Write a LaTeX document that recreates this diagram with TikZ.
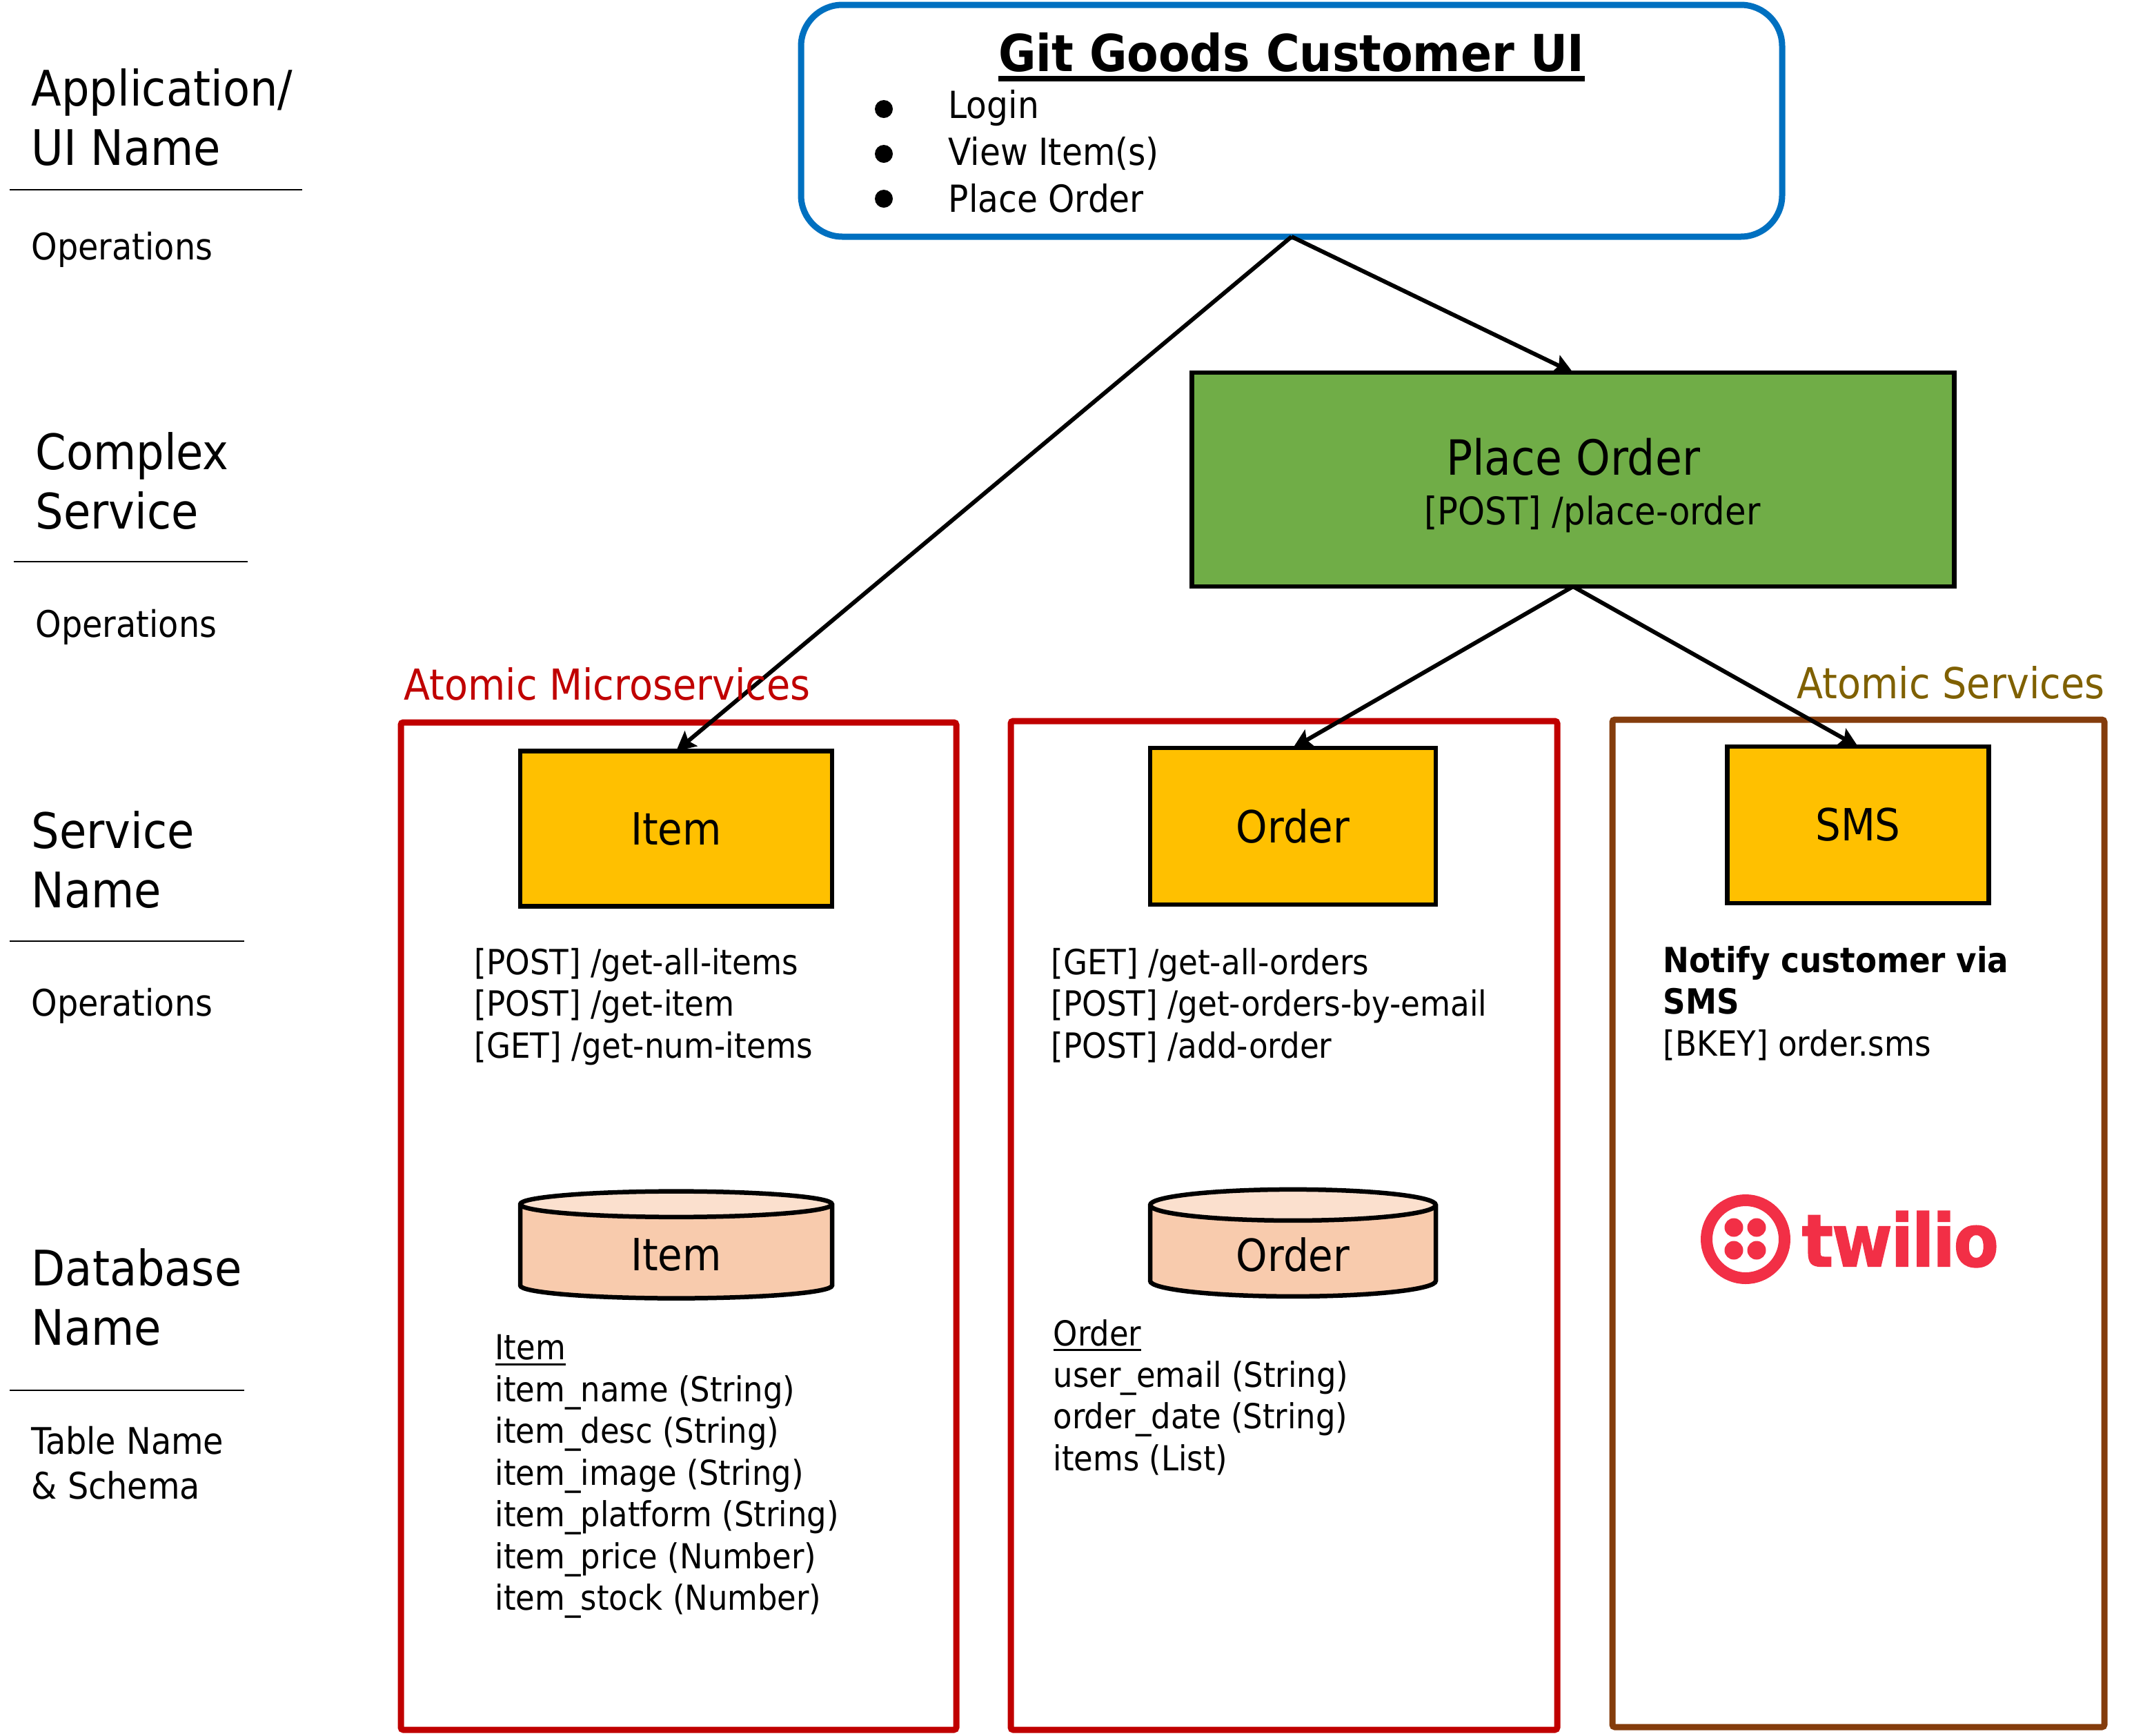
\documentclass[tikz,border=0pt]{standalone}
\usepackage{fontspec}
\setmainfont{DejaVu Sans Condensed}
\newfontfamily\logofont[FakeBold=1.5,LetterSpace=-2]{DejaVu Sans Condensed Bold}
% underline: drop, thickness, text
\newcommand{\ultext}[3]{\leavevmode\setbox0=\hbox{#3}\rlap{\rule[-#1]{\wd0}{#2}}\box0}
\usepackage{tikz}
\usetikzlibrary{shapes.geometric, arrows.meta, positioning, calc}
\definecolor{UIBlue}{HTML}{0070C0}
\definecolor{PlaceGreen}{HTML}{70AD47}
\definecolor{ServiceGold}{HTML}{FFC000}
\definecolor{DbPeach}{HTML}{F8CBAD}
\definecolor{DbTop}{HTML}{FBE0CE}
\definecolor{AtomicRed}{HTML}{C00000}
\definecolor{AtomicBrown}{HTML}{843C0C}
\definecolor{AtomicOlive}{HTML}{7F6000}
\definecolor{TwilioRed}{HTML}{F22F46}
\tikzset{
  % Box styles
  uibox/.style={rectangle, rounded corners=0.6cm, draw=UIBlue, line width=0.09cm, fill=white, outer sep=0pt, minimum width=14.22cm, minimum height=3.36cm},
  complexbox/.style={rectangle, draw=black, line width=0.065cm, fill=PlaceGreen, outer sep=0pt, minimum width=11.05cm, minimum height=3.1cm},
  servicebox/.style={rectangle, draw=black, line width=0.065cm, fill=ServiceGold, outer sep=0pt, minimum height=2.27cm, font=\fontsize{18.3}{22}\selectfont},
  dbnode/.style={cylinder, draw=black, line width=0.065cm, cylinder uses custom fill, cylinder body fill=DbPeach, cylinder end fill=DbTop, shape border rotate=90, aspect=0.24, outer sep=0pt, minimum height=1.55cm, font=\fontsize{18.3}{22}\selectfont},
  framebox/.style={line width=0.09cm, rounded corners=1pt},
  % Arrow styles
  arrow/.style={-{Stealth[length=0.28cm, width=0.28cm, inset=0.05cm]}, line width=0.06cm, black},
  % Text styles
  rowtitle/.style={anchor=west, inner sep=0pt, align=left, font=\fontsize{20.2}{24.7}\selectfont},
  rowcaption/.style={anchor=west, inner sep=0pt, align=left, font=\fontsize{15.1}{18.6}\selectfont},
  rowtext/.style={anchor=west, inner sep=0pt, align=left, font=\fontsize{14.3}{17.2}\selectfont},
  schematext/.style={rowtext, font=\fontsize{14.2}{17.2}\selectfont},
  grouptitle/.style={inner sep=0pt, font=\fontsize{17.6}{21}\selectfont},
  bulletdot/.style={circle, fill=black, inner sep=0pt, minimum size=0.26cm}
}
\begin{document}
\begin{tikzpicture}
  \useasboundingbox (0,0) rectangle (30.93,-25.16);

  % Frames
  \draw[framebox, AtomicRed] (5.81,-10.47) rectangle (13.86,-25.07);
  \draw[framebox, AtomicRed] (14.65,-10.45) rectangle (22.57,-25.07);
  \draw[framebox, AtomicBrown] (23.37,-10.43) rectangle (30.50,-25.03);

  % Row captions
  \node[rowtitle] (appname) at (0.45,-1.70) {Application/\\UI Name};
  \node[rowcaption] (appops) at (0.45,-3.62) {Operations};
  \node[rowtitle] (complexname) at (0.51,-6.97) {Complex\\Service};
  \node[rowcaption] (complexops) at (0.51,-9.09) {Operations};
  \node[rowtitle] (servicename) at (0.45,-12.46) {Service\\Name};
  \node[rowcaption] (serviceops) at (0.45,-14.58) {Operations};
  \node[rowtitle] (dbname) at (0.45,-18.80) {Database\\Name};
  \node[rowcaption] (tablename) at (0.45,-21.20) {Table Name\\\& Schema};
  \draw[line width=0.6pt] (0.14,-2.75) -- (4.38,-2.75);
  \draw[line width=0.6pt] (0.20,-8.14) -- (3.59,-8.14);
  \draw[line width=0.6pt] (0.14,-13.64) -- (3.54,-13.64);
  \draw[line width=0.6pt] (0.14,-20.15) -- (3.54,-20.15);

  % Customer UI
  \node[uibox] (ui) at (18.72,-1.75) {};
  \node[inner sep=0pt, font=\fontsize{21}{25}\selectfont\bfseries] (uititle) at (18.72,-0.83) {\ultext{4.2pt}{2.3pt}{Git Goods Customer UI}};
  \foreach \i/\label in {1/Login, 2/View Item(s), 3/Place Order} {
    \node[bulletdot] (dot\i) at (12.81,-0.93-\i*0.65) {};
    \node[rowtext, font=\fontsize{15.4}{18}\selectfont] (op\i) at (13.74,-0.92-\i*0.65) {\label};
  }

  % Complex service
  \node[complexbox] (place) at (22.80,-6.95) {};
  \node[inner sep=0pt, font=\fontsize{20}{24}\selectfont] (placetitle) at (22.80,-6.62) {Place Order};
  \node[inner sep=0pt, font=\fontsize{15.7}{19}\selectfont] (placeop) at (23.08,-7.45) {{[POST]} /place-order};

  % Atomic services
  \node[servicebox, minimum width=4.52cm, minimum height=2.25cm] (item) at (9.80,-12.01) {Item};
  \node[servicebox, minimum width=4.14cm] (order) at (18.74,-11.975) {Order};
  \node[servicebox, minimum width=3.79cm] (sms) at (26.93,-11.955) {SMS};

  % Arrows
  \draw[arrow] (ui.south) -- (item.north);
  \draw[arrow] (ui.south) -- (place.north);
  \draw[arrow] (place.south) -- (order.north);
  \draw[arrow] (place.south) -- (sms.north);

  % Group titles
  \node[grouptitle, anchor=west, text=AtomicRed] (microtitle) at (5.85,-9.91) {Atomic Microservices};
  \node[grouptitle, anchor=east, text=AtomicOlive] (atomictitle) at (30.51,-9.89) {Atomic Services};

  % Operations
  \node[rowtext] (itemops) at (6.87,-14.59) {{[POST]} /get-all-items\\{[POST]} /get-item\\{[GET]} /get-num-items};
  \node[rowtext] (orderops) at (15.23,-14.57) {{[GET]} /get-all-orders\\{[POST]} /get-orders-by-email\\{[POST]} /add-order};
  \node[rowtext] (smsops) at (24.10,-14.54) {\textbf{Notify customer via}\\\textbf{SMS}\\{[BKEY]} order.sms};

  % Databases
  \node[dbnode, minimum width=4.52cm] (itemdb) at (9.80,-18.18) {Item};
  \node[dbnode, minimum width=4.14cm] (orderdb) at (18.74,-18.18) {Order};

  % Schemas
  \node[schematext] (itemschema) at (7.17,-21.40) {\ultext{2.2pt}{0.9pt}{Item}\\item\_name (String)\\item\_desc (String)\\item\_image (String)\\item\_platform (String)\\item\_price (Number)\\item\_stock (Number)};
  \node[schematext] (orderschema) at (15.26,-20.25) {\ultext{2.2pt}{0.9pt}{Order}\\user\_email (String)\\order\_date (String)\\items (List)};

  % Twilio logo
  \node[circle, draw=TwilioRed, line width=0.17cm, inner sep=0pt, minimum size=1.13cm] (ring) at (25.30,-17.96) {};
  \foreach \i/\dx/\dy in {1/-0.17/0.17, 2/0.16/0.17, 3/-0.17/-0.16, 4/0.16/-0.16} {
    \fill[TwilioRed] ($(ring.center)+(\dx,\dy)$) circle (0.135);
  }
  \node[inner sep=0pt, anchor=west, text=TwilioRed, font=\fontsize{30}{36}\logofont] (twilio) at (26.11,-17.96) {twilio};
\end{tikzpicture}
\end{document}
